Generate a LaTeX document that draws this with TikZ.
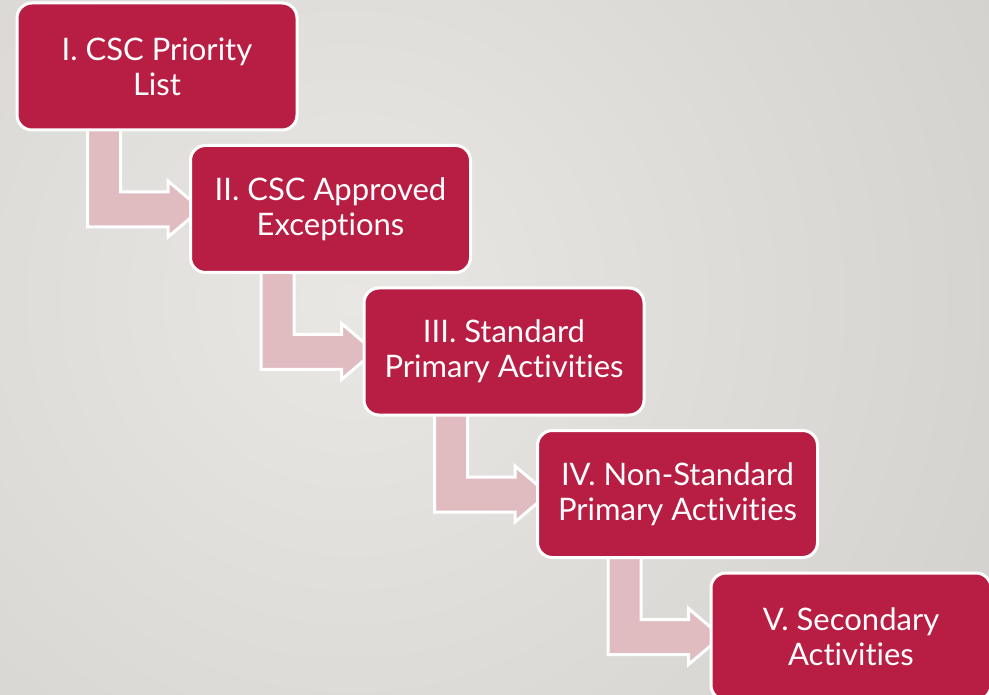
\documentclass[tikz,border=0pt]{standalone}
\usepackage{fontspec}
\setmainfont{Lato}[Ligatures=NoCommon]
\usetikzlibrary{calc}
\definecolor{bgin}{HTML}{E9E7E4}
\definecolor{bgout}{HTML}{D3D1CD}
\definecolor{boxred}{HTML}{B81E43}
\definecolor{arrowpink}{HTML}{E0BCC1}
\pgfdeclarelayer{bglayer}
\pgfdeclarelayer{arrowlayer}
\pgfsetlayers{bglayer,arrowlayer,main}
\tikzset{
  stepbox/.style={draw=white, line width=3pt, fill=boxred, rounded corners=15pt,
    minimum width=280pt, minimum height=127pt, inner sep=0pt, text=white,
    align=center, font=\fontsize{31}{35}\selectfont},
  bentarrow/.style={draw=white, line width=3pt, fill=arrowpink, line join=miter}
}
\begin{document}
\begin{tikzpicture}[x=1pt, y=-1pt]
  \useasboundingbox (0,0) rectangle (989,695);
  \begin{pgfonlayer}{bglayer}
    \clip (0,0) rectangle (989,695);
    \shade[inner color=bgin, outer color=bgout] (-400,-450) rectangle (1100,1050);
  \end{pgfonlayer}
  % boxes
  \node[stepbox] (b1) at (157,66.5)  {I. CSC Priority\\List};
  \node[stepbox] (b2) at (330.5,209) {II. CSC Approved\\Exceptions};
  \node[stepbox] (b3) at (504,351.5) {III. Standard\\Primary Activities};
  \node[stepbox] (b4) at (677.5,494) {IV. Non-Standard\\Primary Activities};
  \node[stepbox] (b5) at (851,636.5) {V. Secondary\\Activities};
  % bent arrows
  \begin{pgfonlayer}{arrowlayer}
  \foreach \a/\b in {b1/b2, b2/b3, b3/b4, b4/b5}{
    \coordinate (p1) at ($(\a.south west)+(72,-4)$);
    \coordinate (p2) at ($(p1)+(33,0)$);
    \coordinate (hb) at ($(\b.west)+(-21,18)$);
    \coordinate (ht) at ($(\b.west)+(-21,-17)$);
    \filldraw[bentarrow]
      (p1) -- (p1 |- hb) -- (hb)
      -- ($(\b.west)+(-21,28)$)
      -- ($(\b.west)+(12,0)$)
      -- ($(\b.west)+(-21,-28)$)
      -- (ht) -- (p2 |- ht) -- (p2) -- cycle;
  }
  \end{pgfonlayer}
\end{tikzpicture}
\end{document}
